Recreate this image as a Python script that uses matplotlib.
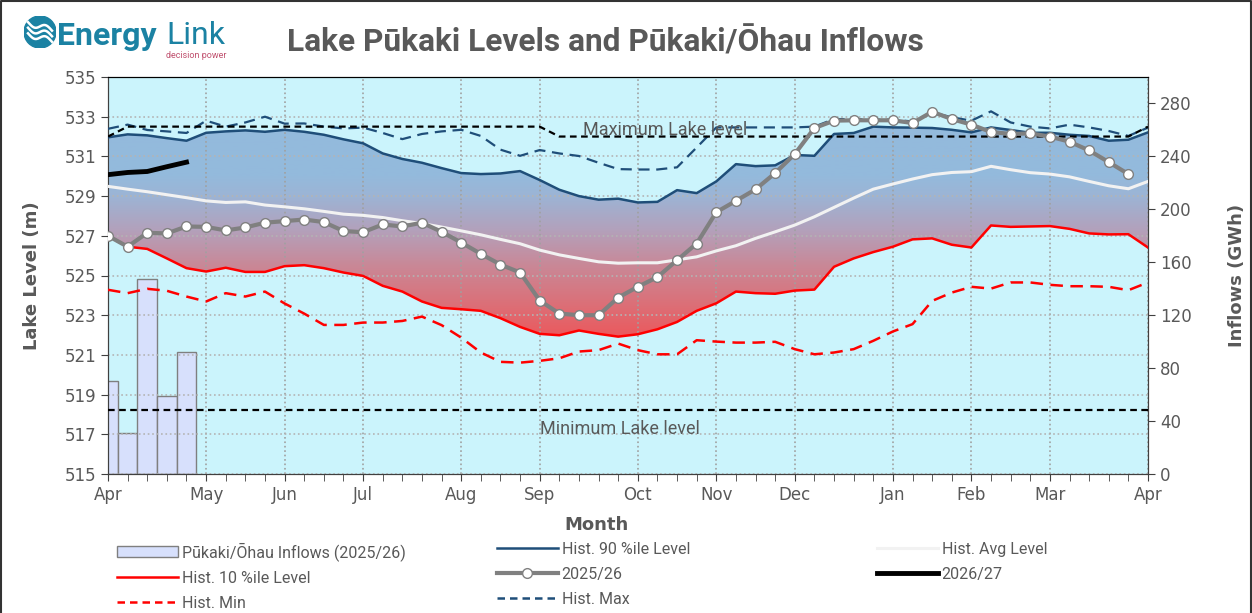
import numpy as np
import matplotlib.pyplot as plt
from matplotlib.colors import LinearSegmentedColormap
from matplotlib.lines import Line2D
from matplotlib.patches import Patch, Circle

# weekly data, week 0 = start of April
weeks = list(range(54))
month_pos = [0, 5, 9, 13, 18, 22, 27, 31, 35, 40, 44, 48, 53]
month_lbls = ['Apr', 'May', 'Jun', 'Jul', 'Aug', 'Sep', 'Oct', 'Nov', 'Dec', 'Jan', 'Feb', 'Mar', 'Apr']

hist_max = [532.39, 532.6, 532.33, 532.26, 532.18, 532.8, 532.5, 532.71, 533.0, 532.65, 532.66, 532.5, 532.41, 532.45,
            532.18, 531.87, 532.13, 532.26, 532.34, 532.03, 531.34, 531.03, 531.32, 531.15, 531.02, 530.68, 530.36,
            530.34, 530.34, 530.45, 531.45, 532.46, 532.46, 532.46, 532.46, 532.46, 532.5, 532.88, 532.88, 532.85,
            532.85, 532.76, 533.22, 532.97, 532.8, 533.27, 532.71, 532.5, 532.41, 532.6, 532.46, 532.28, 532.03, 532.45]
hist_p90 = [531.96, 532.11, 532.06, 531.92, 531.79, 532.19, 532.26, 532.31, 532.24, 532.34, 532.24, 532.09, 531.86, 531.66,
            531.15, 530.87, 530.68, 530.41, 530.16, 530.11, 530.14, 530.26, 529.81, 529.32, 529.0, 528.82, 528.87,
            528.68, 528.71, 529.3, 529.15, 529.74, 530.61, 530.51, 530.55, 531.07, 531.03, 532.13, 532.18, 532.5,
            532.46, 532.45, 532.43, 532.34, 532.21, 532.46, 532.33, 532.19, 532.19, 532.09, 532.03, 531.79, 531.84, 532.21]
hist_avg = [529.49, 529.35, 529.22, 529.07, 528.92, 528.76, 528.68, 528.71, 528.55, 528.46, 528.36, 528.23, 528.09, 528.03,
            527.92, 527.76, 527.62, 527.44, 527.25, 527.05, 526.82, 526.6, 526.28, 526.04, 525.86, 525.69, 525.62,
            525.64, 525.64, 525.79, 525.94, 526.24, 526.5, 526.87, 527.2, 527.54, 527.96, 528.43, 528.9, 529.35,
            529.61, 529.86, 530.08, 530.19, 530.23, 530.5, 530.33, 530.18, 530.11, 529.97, 529.74, 529.52, 529.37, 529.74]
hist_p10 = [527.0, 526.45, 526.34, 525.86, 525.37, 525.2, 525.39, 525.18, 525.18, 525.47, 525.52, 525.37, 525.15, 524.98,
            524.48, 524.19, 523.69, 523.37, 523.3, 523.22, 522.85, 522.41, 522.06, 521.99, 522.23, 522.06, 521.92,
            522.04, 522.29, 522.66, 523.22, 523.6, 524.19, 524.11, 524.08, 524.24, 524.29, 525.44, 525.86, 526.18,
            526.45, 526.82, 526.87, 526.55, 526.41, 527.52, 527.45, 527.47, 527.49, 527.35, 527.12, 527.07, 527.08, 526.41]
hist_min = [524.28, 524.11, 524.33, 524.23, 523.94, 523.69, 524.11, 523.94, 524.19, 523.59, 523.08, 522.51, 522.51, 522.63,
            522.63, 522.71, 522.93, 522.5, 521.87, 521.12, 520.65, 520.61, 520.7, 520.83, 521.17, 521.24, 521.57,
            521.24, 521.03, 521.03, 521.74, 521.67, 521.62, 521.62, 521.66, 521.29, 521.03, 521.12, 521.29, 521.71,
            522.18, 522.55, 523.72, 524.14, 524.43, 524.34, 524.65, 524.65, 524.53, 524.46, 524.46, 524.43, 524.26, 524.65]
lvl_2526 = [527.0, 526.45, 527.15, 527.12, 527.47, 527.45, 527.27, 527.42, 527.66, 527.74, 527.82, 527.69, 527.24, 527.18,
            527.57, 527.47, 527.66, 527.2, 526.66, 526.09, 525.55, 525.15, 523.74, 523.08, 523.0, 523.0, 523.89,
            524.43, 524.92, 525.77, 526.61, 528.19, 528.76, 529.34, 530.16, 531.12, 532.43, 532.8, 532.82, 532.82,
            532.82, 532.68, 533.25, 532.88, 532.6, 532.23, 532.13, 532.16, 532.0, 531.74, 531.3, 530.71, 530.11]
lvl_2627 = [530.08, 530.19, 530.24, 530.48, 530.71]
inflow_wk = [0, 1, 2, 3, 4]
inflows = [70, 31, 147, 59, 92]

max_lvl_wk = [0, 1, 22, 23, 52, 53]
max_lvl = [532.0, 532.5, 532.5, 532.0, 532.0, 532.5]
min_lvl = 518.2

grey = '#595959'
narrow = ['Liberation Sans Narrow', 'Roboto', 'DejaVu Sans']
teal = '#1b82a3'

fig = plt.figure(figsize=(12.52, 6.13), dpi=100)
ax = fig.add_axes([108/1252, 1-474/613, 1040/1252, 397/613])
ax2 = ax.twinx()
ax.set_zorder(ax2.get_zorder() + 1)
ax.patch.set_visible(False)
ax2.patch.set_visible(True)
ax2.patch.set_facecolor('#cbf4fc')

# inflow bars on the right axis (behind lines)
ax2.bar(inflow_wk, inflows, width=1, color='#d7e0fc', edgecolor='#7f7f7f', lw=1)
ax2.set_ylim(0, 300)
ax2.set_yticks(range(0, 281, 40))

# gradient band between 10 and 90 percentiles
stops = [(0.0, '#ee555a'), ((522 - 521) / 12.5, '#ea5a5e'), ((523.5 - 521) / 12.5, '#dc6f77'),
         ((525.5 - 521) / 12.5, '#c98897'), ((527.2 - 521) / 12.5, '#b4a0ba'), ((529 - 521) / 12.5, '#9cb4d5'),
         ((530 - 521) / 12.5, '#94badc'), (1.0, '#93badd')]
cmap = LinearSegmentedColormap.from_list('band', stops)
band = ax.fill_between(weeks, hist_p10, hist_p90, facecolor='none', edgecolor='none')
grad = np.linspace(0, 1, 256).reshape(-1, 1)
im = ax.imshow(grad, extent=[0, 53, 521, 533.5], origin='lower', cmap=cmap, aspect='auto', zorder=1)
im.set_clip_path(band.get_paths()[0], transform=ax.transData)

ax.plot(weeks, hist_max, color='#1f4e79', lw=1.6, ls=(0, (5, 3)), zorder=3)
ax.plot(weeks, hist_p90, color='#1f4e79', lw=1.8, zorder=3)
ax.plot(weeks, hist_avg, color='#f2f2f2', lw=2.2, zorder=3)
ax.plot(weeks, hist_p10, color='#ff0000', lw=1.8, zorder=3)
ax.plot(weeks, hist_min, color='#ff0000', lw=1.8, ls=(0, (5, 3)), zorder=3)
ax.plot(max_lvl_wk, max_lvl, color='black', lw=1.6, ls=(0, (3, 2)), zorder=4)
ax.axhline(min_lvl, color='black', lw=1.6, ls=(0, (3, 2)), zorder=4)
ax.plot(weeks[:len(lvl_2526)], lvl_2526, color='#808080', lw=3, marker='o', ms=7,
        mfc='white', mec='#808080', mew=1, zorder=5)
ax.plot(weeks[:len(lvl_2627)], lvl_2627, color='black', lw=3.5, zorder=6)

ax.text(28.4, 532.33, 'Maximum Lake level', ha='center', va='center', fontsize=13, color=grey, family=narrow, zorder=7)
ax.text(26.1, 517.27, 'Minimum Lake level', ha='center', va='center', fontsize=13, color=grey, family=narrow, zorder=7)

ax.set_xlim(0, 53)
ax.set_ylim(515, 535)
ax.set_yticks(range(515, 536, 2))
ax.set_xticks(month_pos)
ax.set_xticklabels(month_lbls)
ax.set_xticks(weeks, minor=True)
ax.grid(axis='x', which='major', color='#a0a0a0', ls=':', lw=1.2)
ax.grid(axis='y', color='#b4b4b4', ls=':', lw=1.2)
for a in (ax, ax2):
    a.tick_params(which='both', direction='out', length=5, color='#404040', labelcolor=grey, labelsize=12)
    for s in a.spines.values():
        s.set_color('#404040')
    a.spines['top'].set_color('black')
ax.set_ylabel('Lake Level (m)', fontsize=13, fontweight='bold', color=grey, labelpad=17)
ax2.set_ylabel('Inflows (GWh)', fontsize=13, fontweight='bold', color=grey, labelpad=26)

fig.text(596/1252, 1-525/613, 'Month', ha='center', va='center', fontsize=13, fontweight='bold', color=grey)
fig.text(605/1252, 1-42/613, 'Lake Pūkaki Levels and Pūkaki/Ōhau Inflows', ha='center', va='center',
         fontsize=22.8, fontweight='bold', color=grey, family=narrow)

# logo
lax = fig.add_axes([24/1252, 1-48/613, 32/1252, 32/613])
lax.set_xlim(-1, 1)
lax.set_ylim(-1, 1)
lax.axis('off')
lax.add_patch(Circle((0, 0), 1, color=teal))
t = np.linspace(-0.75, 0.75, 50)
for off in (-0.35, 0.0, 0.35):
    lax.plot(t, off + 0.18 * np.sin(t * 4.5) - 0.3 * t, color='white', lw=1.8)
fig.text(57/1252, 1-36/613, 'Energy', ha='left', va='center', fontsize=23, fontweight='bold', color=teal, family=narrow)
fig.text(166/1252, 1-36/613, 'Link', ha='left', va='center', fontsize=23, color=teal, family=narrow)
fig.text(226/1252, 1-55/613, 'decision power', ha='right', va='center', fontsize=6.5, color='#c0506e', family=narrow)

# legend, three columns
cols = [
    ([Patch(facecolor='#d7e0fc', edgecolor='#7f7f7f'),
      Line2D([], [], color='#ff0000', lw=1.8),
      Line2D([], [], color='#ff0000', lw=1.8, ls=(0, (3, 2)))],
     ['Pūkaki/Ōhau Inflows (2025/26)', 'Hist. 10 %ile Level', 'Hist. Min'], 117),
    ([Line2D([], [], color='#1f4e79', lw=1.8),
      Line2D([], [], color='#808080', lw=3, marker='o', ms=7, mfc='white', mec='#808080'),
      Line2D([], [], color='#1f4e79', lw=1.8, ls=(0, (3, 2)))],
     ['Hist. 90 %ile Level', '2025/26', 'Hist. Max'], 497),
    ([Line2D([], [], color='#f2f2f2', lw=2.2),
      Line2D([], [], color='black', lw=3.5)],
     ['Hist. Avg Level', '2026/27'], 877),
]
for hs, ls_, x in cols:
    fig.legend(hs, ls_, loc='upper left', bbox_to_anchor=(x/1252, 1-542/613), frameon=False, ncol=1,
               borderpad=0, borderaxespad=0, handlelength=3.8, handletextpad=0.25, labelspacing=0.62,
               numpoints=1, prop={'family': narrow, 'size': 11.5}, labelcolor=grey)

# frame around the picture
fig.add_artist(plt.Line2D([0.001, 0.001, 0.999, 0.999], [0, 0.998, 0.998, 0], transform=fig.transFigure,
                          color='#333333', lw=1.5))

fig.savefig('out.png', dpi=100)
